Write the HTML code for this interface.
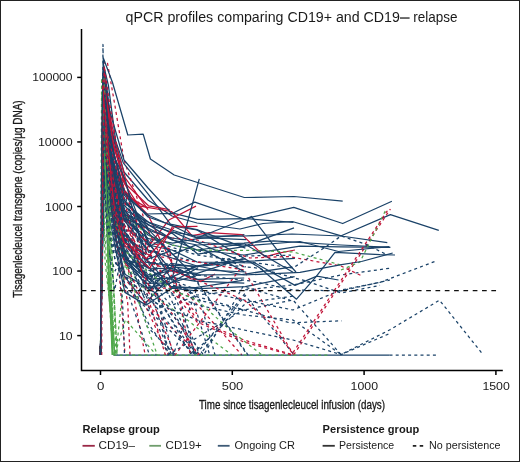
<!DOCTYPE html>
<html><head><meta charset="utf-8"><style>
html,body{margin:0;padding:0;background:#fff;}
body{width:520px;height:462px;overflow:hidden;}
svg{display:block;will-change:transform;}
text{font-family:"Liberation Sans",sans-serif;fill:#1a1a1a;}
</style></head><body>
<svg width="520" height="462" viewBox="0 0 520 462">
<rect x="0" y="0" width="520" height="462" fill="#fff"/>

<g fill="none" stroke-linejoin="round" stroke-width="1.25">
<polyline points="100.5,355.0 102.9,147.9 107.5,188.6 116.2,240.6 124.2,275.9 145.3,303.2 169.8,277.2 194.8,281.1 244.3,283.1" stroke="#1a4268"/>
<polyline points="100.5,355.0 103.5,104.2 108.0,166.7 112.8,355.0" stroke="#50a84c"/>
<polyline points="100.5,355.0 104.0,100.0 108.5,175.0 117.0,240.0 127.7,303.0 130.0,355.0" stroke="#c01438" stroke-dasharray="3,3.2"/>
<polyline points="100.5,355.0 103.5,78.0 110.0,125.0 124.0,172.0 148.0,200.0 172.0,216.0 197.0,223.0 240.0,229.0 263.0,223.5 292.3,221.5 341.2,235.8 390.4,214.6 438.8,230.3" stroke="#1a4268"/>
<polyline points="100.5,355.0 102.9,99.7 108.1,142.8 114.3,189.5 124.2,219.3 148.4,238.7 172.6,243.2 197.5,238.7 244.4,234.7" stroke="#1a4268"/>
<polyline points="100.5,355.0 101.6,78.0 104.5,230.0 113.0,355.0" stroke="#50a84c" stroke-dasharray="3,3.2"/>
<polyline points="100.5,355.0 103.5,120.0 109.0,200.0 124.0,262.0 140.0,285.0 160.0,300.0 185.0,318.0 212.0,340.0 232.0,355.0" stroke="#50a84c" stroke-dasharray="3,3.2"/>
<polyline points="100.5,355.0 104.1,67.5 107.8,95.1 114.5,157.5 124.8,191.2 146.4,214.0 174.0,213.4 197.8,219.3 246.5,218.7 293.5,222.4" stroke="#1a4268"/>
<polyline points="100.5,355.0 104.4,82.0 108.1,154.2 114.8,200.3 124.5,240.4 149.4,268.2 173.0,268.9" stroke="#1a4268"/>
<polyline points="100.5,355.0 104.0,80.0 110.0,140.0 124.0,190.0 148.0,215.0 175.0,269.4 191.3,279.0 202.9,280.4 215.0,274.0" stroke="#c01438"/>
<polyline points="100.5,355.0 103.0,105.0 110.0,165.0 124.0,215.0 148.0,245.0 172.0,250.0 197.0,262.0 255.0,263.0 295.0,285.4 316.9,276.2 338.5,280.0" stroke="#1a4268"/>
<polyline points="100.5,355.0 102.7,134.9 108.3,191.4 117.3,355.0" stroke="#50a84c" stroke-dasharray="3,3.2"/>
<polyline points="100.5,355.0 104.5,61.0 107.5,63.0 115.0,106.0 124.0,160.0 148.0,230.0 172.0,280.0 197.0,320.0 244.0,340.0 293.6,355.0 390.4,209.0" stroke="#c01438" stroke-dasharray="3,3.2"/>
<polyline points="100.5,355.0 102.8,149.3 108.0,178.3 114.8,200.9 123.1,234.6 145.3,266.9 170.1,274.0 241.8,355.0" stroke="#c01438" stroke-dasharray="3,3.2"/>
<polyline points="100.5,355.0 103.8,95.0 108.0,170.0 115.0,230.0 120.5,288.0 125.0,355.0" stroke="#c01438" stroke-dasharray="3,3.2"/>
<polyline points="100.5,355.0 103.0,100.0 110.0,160.0 124.0,210.0 148.0,235.0 172.0,245.0 197.0,250.0 244.0,255.0 300.0,246.2 340.0,246.9 389.8,247.3" stroke="#1a4268"/>
<polyline points="100.5,355.0 101.8,95.0 105.0,260.0 115.0,355.0" stroke="#50a84c" stroke-dasharray="3,3.2"/>
<polyline points="100.5,355.0 103.1,77.5 108.1,106.3 114.9,140.0 125.4,178.2 148.1,209.6" stroke="#c01438"/>
<polyline points="100.5,355.0 103.0,95.0 110.0,150.0 124.0,195.0 148.0,215.0 172.0,226.0 197.0,230.0 259.6,267.7 296.5,299.2 316.5,276.2 335.0,252.3 380.0,254.6 395.0,255.0" stroke="#1a4268"/>
<polyline points="100.5,355.0 102.8,109.3 114.6,355.0" stroke="#50a84c" stroke-dasharray="3,3.2"/>
<polyline points="100.5,355.0 103.9,84.9 107.4,134.1 116.2,194.4 123.1,237.2 145.4,250.0 169.3,219.7 196.0,206.1" stroke="#c01438"/>
<polyline points="100.5,355.0 103.0,105.0 110.0,175.0 124.0,225.0 148.0,250.0 197.0,262.0 257.7,268.1 306.9,281.2 341.0,293.0 380.0,285.4" stroke="#1a4268" stroke-dasharray="3,3.2"/>
<polyline points="100.5,355.0 103.5,100.0 110.0,170.0 124.0,230.0 148.0,270.0 197.0,290.0 244.0,300.0 293.0,310.0 341.0,290.0 380.0,282.4 436.0,261.0" stroke="#1a4268" stroke-dasharray="3,3.2"/>
<polyline points="100.5,355.0 103.0,110.0 110.0,180.0 124.0,230.0 148.0,262.0 197.0,275.0 253.0,281.2 293.0,290.0 341.0,290.8 390.0,280.0" stroke="#1a4268" stroke-dasharray="3,3.2"/>
<polyline points="100.5,355.0 103.0,138.6 107.9,182.5 115.9,228.7 123.6,250.4 147.2,326.8 175.5,355.0" stroke="#1a4268" stroke-dasharray="3,3.2"/>
<polyline points="100.5,355.0 102.4,115.6 108.4,179.9 114.4,218.0 124.8,250.8 145.2,355.0" stroke="#c01438" stroke-dasharray="3,3.2"/>
<polyline points="100.5,355.0 102.5,122.1 107.4,152.8 115.6,210.4 123.6,255.2 147.2,278.0 171.7,266.8 197.9,269.7 246.2,272.0" stroke="#1a4268"/>
<polyline points="100.5,355.0 104.0,132.9 114.7,355.0 125.4,319.7 156.4,355.0" stroke="#50a84c" stroke-dasharray="3,3.2"/>
<polyline points="100.5,355.0 104.7,119.1 108.2,166.6 115.2,227.8 124.2,259.1 148.2,267.3 170.1,286.4 199.3,288.7 245.3,286.7 294.6,276.6" stroke="#1a4268"/>
<polyline points="113.5,355.0 389.5,355.0" stroke="#1a4268"/>
<polyline points="100.5,355.0 103.2,172.8 107.7,222.6 116.3,256.0 125.1,234.5 145.2,254.1 196.4,281.3 247.3,355.0" stroke="#1a4268" stroke-dasharray="3,3.2"/>
<polyline points="100.5,355.0 103.2,90.0 106.0,160.0 108.5,285.0 113.0,355.0" stroke="#50a84c"/>
<polyline points="100.5,355.0 103.3,92.5 107.6,114.4 115.9,148.8 125.3,183.4 149.6,246.8 172.8,231.9 196.9,242.2 244.6,262.7" stroke="#1a4268"/>
<polyline points="100.5,355.0 103.5,118.2 107.4,185.7 116.1,210.5 125.1,247.9 149.0,278.6 173.8,294.4 199.8,355.0 245.1,295.3 294.3,355.0" stroke="#1a4268" stroke-dasharray="3,3.2"/>
<polyline points="100.5,355.0 103.3,102.9 107.8,174.9 115.5,196.0 123.5,209.8 149.6,288.3 174.2,288.1 196.9,313.9" stroke="#c01438" stroke-dasharray="3,3.2"/>
<polyline points="100.5,355.0 103.1,118.3 107.6,176.1 115.5,238.5 125.3,279.4 146.7,304.4 200.1,355.0" stroke="#c01438" stroke-dasharray="3,3.2"/>
<polyline points="100.5,355.0 104.3,145.6 107.5,171.8 115.3,209.7 123.1,247.6 149.2,279.1 169.2,278.1 195.4,266.9 241.9,261.7 294.9,258.3" stroke="#1a4268"/>
<polyline points="100.5,355.0 103.8,172.0 108.3,202.3 115.7,241.1 123.4,275.6 150.1,290.0 170.4,355.0" stroke="#1a4268" stroke-dasharray="3,3.2"/>
<polyline points="100.5,355.0 103.0,95.0 110.0,150.0 124.0,200.0 148.0,228.0 172.0,240.0 197.0,245.0 244.0,243.1 273.5,240.8 341.0,245.0 390.4,247.3" stroke="#1a4268"/>
<polyline points="100.5,355.0 102.7,113.9 108.0,157.1 115.0,183.1 125.2,210.1 145.7,261.5 172.5,264.5 195.8,279.4 248.1,355.0" stroke="#1a4268" stroke-dasharray="3,3.2"/>
<polyline points="100.5,355.0 104.0,90.0 110.0,160.0 124.0,220.0 148.0,255.0 197.0,262.0 244.0,270.0 293.6,355.0" stroke="#c01438" stroke-dasharray="3,3.2"/>
<polyline points="100.5,355.0 104.3,83.7 107.8,100.0 114.3,154.9 122.9,193.3 147.6,208.1" stroke="#c01438"/>
<polyline points="100.5,355.0 104.0,70.0 110.0,130.0 124.0,183.0 138.8,205.8 171.5,211.5 191.9,235.6 209.2,232.7 241.9,234.6 265.0,256.9 278.8,253.1 295.0,250.0" stroke="#c01438"/>
<polyline points="100.5,355.0 104.3,95.8 107.5,143.0 116.1,184.7 125.2,214.7 147.2,223.9 172.7,239.9 197.2,250.0 244.3,243.8 293.0,272.2" stroke="#1a4268"/>
<polyline points="100.5,355.0 103.3,134.6 107.8,185.9 115.5,225.1 124.6,261.2 145.9,283.4 170.2,282.8 198.4,275.0" stroke="#1a4268"/>
<polyline points="100.5,355.0 103.3,126.3 108.4,180.8 114.8,222.0 123.2,259.0 150.2,282.6 170.9,263.4 195.9,266.8" stroke="#1a4268"/>
<polyline points="100.5,355.0 102.6,89.1 108.1,142.5 115.9,355.0 125.3,264.2 157.3,355.0" stroke="#50a84c" stroke-dasharray="3,3.2"/>
<polyline points="100.5,355.0 104.1,111.0 108.4,150.0 115.1,178.3 123.5,201.9 148.9,222.6 173.2,233.9 197.7,254.1 242.3,246.8 294.0,227.9" stroke="#1a4268"/>
<polyline points="100.5,355.0 103.4,64.5 108.4,85.4 115.7,140.9 123.3,162.9 148.8,194.9 170.4,224.2 196.9,229.7 245.4,248.2" stroke="#1a4268"/>
<polyline points="100.5,355.0 103.7,94.0 108.4,123.4 114.6,156.3 124.8,200.6 146.7,252.3 174.1,250.6 197.0,250.2 245.9,267.0" stroke="#1a4268" stroke-dasharray="3,3.2"/>
<polyline points="100.5,355.0 103.9,114.9 108.1,185.3 115.1,219.0 124.1,260.6 168.5,355.0" stroke="#c01438" stroke-dasharray="3,3.2"/>
<polyline points="100.5,355.0 103.5,118.0 110.0,195.0 124.0,250.0 148.0,278.0 190.0,290.0 209.7,355.0" stroke="#1a4268" stroke-dasharray="3,3.2"/>
<polyline points="100.5,355.0 102.9,157.2 108.1,223.4 115.7,263.6 123.8,271.7 149.0,324.4 170.1,355.0" stroke="#1a4268" stroke-dasharray="3,3.2"/>
<polyline points="100.5,355.0 102.6,119.5 108.1,149.6 116.0,199.0 125.2,232.3 146.7,259.4 170.9,250.9" stroke="#1a4268"/>
<polyline points="100.5,355.0 103.4,100.6 108.3,137.8 116.0,167.1 125.0,192.9 148.7,279.3 171.5,265.2 194.7,355.0" stroke="#1a4268" stroke-dasharray="3,3.2"/>
<polyline points="100.5,355.0 103.0,90.0 110.0,150.0 124.0,200.0 148.0,225.0 172.0,232.0 197.0,236.0 244.0,236.0 292.0,234.0 341.0,236.0 387.3,242.7" stroke="#1a4268"/>
<polyline points="100.5,355.0 103.7,109.2 107.5,167.1 114.8,191.6 123.2,206.3 150.4,255.1 196.9,355.0" stroke="#1a4268" stroke-dasharray="3,3.2"/>
<polyline points="100.5,355.0 103.9,88.7 107.8,156.1 115.8,186.4 124.9,226.4 146.3,284.2 174.1,312.6 195.8,355.0" stroke="#1a4268" stroke-dasharray="3,3.2"/>
<polyline points="100.5,355.0 103.0,110.0 110.0,165.0 124.0,210.0 148.0,222.0 172.0,230.0 197.0,238.0 251.5,216.5 284.6,259.6 296.0,272.0" stroke="#1a4268"/>
<polyline points="100.5,355.0 103.0,143.2 107.6,173.7 115.0,223.4 125.1,258.0 147.4,276.5 169.1,270.9 197.2,273.3 242.8,258.5" stroke="#1a4268"/>
<polyline points="100.5,355.0 103.8,92.0 108.4,130.1 114.3,184.4 124.2,218.3 148.2,243.2 169.2,268.0 197.4,274.8 241.9,274.6 292.3,266.9" stroke="#1a4268"/>
<polyline points="100.5,355.0 102.6,108.2 108.3,189.8 114.5,219.0 125.5,253.4 145.4,300.4 171.9,355.0" stroke="#1a4268" stroke-dasharray="3,3.2"/>
<polyline points="100.5,355.0 103.5,110.0 110.0,180.0 124.0,240.0 148.0,275.0 197.0,295.0 244.0,290.0 293.0,285.0 341.0,275.0 390.7,268.1" stroke="#1a4268" stroke-dasharray="3,3.2"/>
<polyline points="100.5,355.0 104.2,108.1 107.8,140.7 116.2,180.7 124.8,196.5 145.5,250.3 173.2,355.0 196.9,288.2" stroke="#1a4268" stroke-dasharray="3,3.2"/>
<polyline points="100.5,355.0 103.6,96.9 108.0,153.0 114.4,176.1 124.8,215.7 144.8,283.1 175.0,355.0 243.1,265.1" stroke="#c01438" stroke-dasharray="3,3.2"/>
<polyline points="100.5,355.0 103.7,77.5 113.0,355.0" stroke="#50a84c" stroke-dasharray="3,3.2"/>
<polyline points="100.5,355.0 102.9,131.0 107.6,166.2 114.9,220.0 123.7,275.6 149.8,298.6 193.1,355.0" stroke="#1a4268" stroke-dasharray="3,3.2"/>
<polyline points="100.5,355.0 103.8,80.0 109.0,150.0 118.0,200.0 124.0,215.0 148.0,230.0 172.0,238.0 197.0,240.0 250.0,258.0 288.5,256.5 341.0,266.0 362.0,276.0" stroke="#c01438" stroke-dasharray="3,3.2"/>
<polyline points="100.5,355.0 103.6,105.0 108.0,180.0 116.0,245.0 122.5,300.0 124.5,355.0" stroke="#1a4268" stroke-dasharray="3,3.2"/>
<polyline points="100.5,355.0 103.5,115.0 110.0,190.0 124.0,245.0 148.0,268.0 175.0,282.0 200.0,300.0 215.0,355.0" stroke="#1a4268" stroke-dasharray="3,3.2"/>
<polyline points="100.5,355.0 103.5,173.7 107.5,248.1 115.1,270.9 123.3,253.7 146.7,275.4 170.9,305.7 194.9,296.1 290.1,322.9 341.7,320.8" stroke="#1a4268" stroke-dasharray="3,3.2"/>
<polyline points="100.5,355.0 104.0,120.0 110.0,190.0 124.0,245.0 148.0,285.0 197.0,305.0 244.0,315.0 293.0,320.0 341.0,354.6" stroke="#1a4268" stroke-dasharray="3,3.2"/>
<polyline points="100.5,355.0 103.3,117.2 107.7,195.8 115.9,248.0 125.2,286.0 146.8,308.7 195.8,355.0" stroke="#1a4268" stroke-dasharray="3,3.2"/>
<polyline points="100.5,355.0 103.5,95.0 109.0,170.0 124.0,215.0 148.0,235.0 172.0,245.0 197.0,250.0 250.0,250.4 293.0,252.0 341.0,265.0" stroke="#50a84c" stroke-dasharray="3,3.2"/>
<polyline points="100.5,355.0 103.1,118.1 108.2,146.5 116.3,190.0 125.3,215.4 149.7,287.6 195.6,355.0 244.9,293.5" stroke="#1a4268" stroke-dasharray="3,3.2"/>
<polyline points="100.5,355.0 103.5,58.5 112.5,82.5 127.8,135.0 143.2,134.2 150.4,159.0 174.2,175.0 244.3,197.5 294.0,196.5 342.7,201.2" stroke="#1a4268"/>
<polyline points="100.5,355.0 103.2,82.1 108.4,140.7 114.7,174.2 124.2,215.0 148.9,242.4 167.9,355.0 243.6,309.7" stroke="#1a4268" stroke-dasharray="3,3.2"/>
<polyline points="341.0,270.0 360.0,262.0 386.0,209.6" stroke="#50a84c" stroke-dasharray="3,3.2"/>
<polyline points="100.5,355.0 104.0,81.7 108.0,140.0 114.3,198.1 125.2,235.5 148.7,261.7 171.4,287.2 195.6,287.6 242.4,280.4" stroke="#1a4268"/>
<polyline points="100.5,355.0 103.0,44.5 103.3,70.0 110.0,180.0 124.0,240.0 148.0,280.0 197.0,300.0 244.0,310.0 293.0,300.0 341.0,354.6 389.5,330.0 439.5,300.2 482.4,353.8" stroke="#1a4268" stroke-dasharray="3,3.2"/>
<polyline points="100.5,355.0 103.0,105.0 110.0,170.0 124.0,220.0 148.0,250.0 172.0,258.0 197.0,266.0 244.0,275.0 300.0,272.3 341.5,264.6 361.5,261.5 392.7,253.0" stroke="#1a4268"/>
<polyline points="100.5,355.0 104.0,106.4 108.3,170.5 114.3,224.5 123.8,244.6 149.8,268.1 172.4,226.8 197.5,226.3" stroke="#c01438"/>
<polyline points="100.5,355.0 103.4,143.5 108.2,171.6 116.1,219.8 125.3,256.2 147.5,287.9 169.3,283.6 198.1,267.7" stroke="#1a4268"/>
<polyline points="100.5,355.0 104.0,75.0 110.0,135.0 125.4,183.7 148.5,205.8 169.6,209.6" stroke="#c01438"/>
<polyline points="100.5,355.0 103.0,110.0 108.0,190.0 124.0,250.0 148.0,272.0 172.0,290.0 197.0,300.0 230.0,330.0 262.0,355.0" stroke="#50a84c" stroke-dasharray="3,3.2"/>
<polyline points="100.5,355.0 104.7,147.4 107.5,206.4 115.8,250.8 124.9,292.4 146.3,305.1 171.7,288.2 194.2,290.7" stroke="#1a4268"/>
<polyline points="100.5,355.0 103.0,100.0 110.0,170.0 124.0,215.0 148.0,240.0 197.0,255.0 248.5,261.9 293.0,268.0 327.3,245.8 341.0,236.0 365.8,244.2 385.8,254.2" stroke="#1a4268" stroke-dasharray="3,3.2"/>
<polyline points="100.5,355.0 103.0,72.0 110.0,112.0 124.0,160.0 148.0,188.0 171.7,213.7 194.8,202.1 244.0,219.0 293.8,207.3 342.7,223.5 391.9,201.2" stroke="#1a4268"/>
<polyline points="100.5,355.0 103.0,121.2 107.8,174.9 114.7,206.2 124.3,243.0 149.2,255.0" stroke="#c01438"/>
<polyline points="100.5,355.0 103.5,133.6 107.6,162.1 114.8,202.5 123.4,236.5 145.0,273.8 191.3,355.0 246.4,302.7 293.7,296.1" stroke="#1a4268" stroke-dasharray="3,3.2"/>
<polyline points="389.5,355.0 437.0,355.0" stroke="#1a4268" stroke-dasharray="3,3.2"/>
<polyline points="100.5,355.0 103.8,122.6 107.4,177.5 114.8,225.3 124.3,250.5 145.0,299.6" stroke="#1a4268" stroke-dasharray="3,3.2"/>
<polyline points="100.5,355.0 103.3,79.6 107.7,119.6 115.4,181.9 123.4,217.8 146.4,227.4 172.6,254.6 195.6,245.2 244.1,271.6" stroke="#1a4268"/>
<polyline points="100.5,355.0 103.1,105.6 108.2,156.8 116.2,192.3 124.4,232.9 149.1,286.0 172.9,314.5 198.3,355.0" stroke="#c01438" stroke-dasharray="3,3.2"/>
<polyline points="100.5,355.0 103.4,69.3 107.6,131.9 115.9,171.4 125.0,193.4 148.1,217.0 171.6,225.2 197.0,237.7 246.3,239.7" stroke="#1a4268"/>
<polyline points="100.5,355.0 104.1,139.1 108.2,186.6 116.1,238.4 124.9,274.2 149.8,289.5 169.4,269.5 197.8,279.4 244.2,278.0" stroke="#1a4268"/>
<polyline points="113.5,355.0 330.0,355.0" stroke="#50a84c" stroke-dasharray="3,3.2"/>
<polyline points="100.5,355.0 104.0,115.0 110.0,185.0 124.0,250.0 148.0,300.0 197.0,320.0 244.0,330.0 293.0,340.0 341.0,354.6 389.5,333.6" stroke="#1a4268" stroke-dasharray="3,3.2"/>
<polyline points="100.5,355.0 103.0,100.0 110.0,155.0 124.0,205.0 148.0,230.0 172.0,238.0 197.0,242.0 244.0,246.0 300.0,241.5 338.5,251.5 389.2,246.6" stroke="#1a4268"/>
<polyline points="100.5,355.0 103.8,130.4 107.9,257.9 114.8,355.0" stroke="#50a84c"/>
<polyline points="100.5,355.0 104.0,92.0 110.0,165.0 124.0,225.0 148.0,262.0 197.0,280.0 244.0,300.0 270.0,322.0 293.6,355.0" stroke="#c01438" stroke-dasharray="3,3.2"/>
<polyline points="100.5,355.0 104.0,72.2 107.8,134.7 114.4,162.0 123.8,198.2 148.0,297.5 165.4,355.0" stroke="#c01438" stroke-dasharray="3,3.2"/>
<polyline points="100.5,355.0 103.6,84.8 107.4,143.6 116.1,176.1 123.0,212.5 147.4,232.5 171.7,253.2 195.5,277.3" stroke="#1a4268"/>
<polyline points="100.5,355.0 103.0,85.0 110.0,140.0 124.0,190.0 148.0,240.0 171.7,280.0 199.3,178.9" stroke="#1a4268"/>
<polyline points="100.5,355.0 103.8,169.1 108.1,243.9 114.6,290.2 124.6,239.0 146.9,274.9 193.7,267.3 241.1,256.0 291.0,255.2" stroke="#1a4268" stroke-dasharray="3,3.2"/>
<polyline points="100.5,355.0 103.4,72.8 108.2,141.6 114.5,189.5 125.5,233.3 147.9,296.6 173.1,315.8 203.7,355.0 242.9,286.6 289.9,300.1" stroke="#1a4268" stroke-dasharray="3,3.2"/>
<polyline points="100.5,355.0 104.0,77.1 107.5,163.5 117.1,355.0" stroke="#50a84c" stroke-dasharray="3,3.2"/>
<polyline points="100.5,355.0 102.8,99.0 112.1,355.0" stroke="#50a84c"/>
<polyline points="100.5,355.0 102.6,154.2 107.4,228.7 116.0,262.8 125.4,285.5 149.5,355.0" stroke="#1a4268" stroke-dasharray="3,3.2"/>
<polyline points="100.5,355.0 104.0,102.6 107.4,170.2 114.8,190.3 124.2,227.6 147.8,241.6 169.2,248.6 190.6,355.0" stroke="#c01438" stroke-dasharray="3,3.2"/>
<polyline points="100.5,355.0 104.5,96.5 108.0,121.0 114.4,157.6 125.5,180.2 145.5,262.1 169.7,265.4 195.7,266.2 245.6,258.8" stroke="#1a4268"/>
<polyline points="100.5,355.0 102.7,87.5 108.3,150.2 114.9,213.7 123.7,242.3 146.4,258.7 174.0,227.6" stroke="#c01438"/>
<polyline points="100.5,355.0 104.2,66.0 109.0,100.0 124.0,190.0 148.0,250.0 172.0,290.0 197.0,322.0 244.0,342.0 291.4,355.0 388.2,209.5" stroke="#c01438" stroke-dasharray="3,3.2"/>
<polyline points="100.5,355.0 102.7,125.4 107.7,181.3 115.2,217.3 123.6,233.8 147.4,288.5 174.2,279.6" stroke="#1a4268" stroke-dasharray="3,3.2"/>
<polyline points="101.7,355.0 102.3,200.0 103.0,80.0" stroke="#c01438" stroke-dasharray="3,3.2"/>
<polyline points="100.7,355.0 101.2,200.0 102.5,90.0" stroke="#1a4268"/>
</g>
<line x1="81.7" y1="290.6" x2="497.4" y2="290.6" stroke="#111" stroke-width="1.4" stroke-dasharray="4.7,4.61"/>
<g stroke="#000" stroke-width="1.5" fill="none">
<polyline points="81.5,29 81.5,370.5 502.8,370.5"/>
<line x1="77.2" y1="77.40" x2="81.5" y2="77.40"/>
<line x1="77.2" y1="141.95" x2="81.5" y2="141.95"/>
<line x1="77.2" y1="206.50" x2="81.5" y2="206.50"/>
<line x1="77.2" y1="271.05" x2="81.5" y2="271.05"/>
<line x1="77.2" y1="335.60" x2="81.5" y2="335.60"/>
<line x1="100.50" y1="370.5" x2="100.50" y2="375"/>
<line x1="232.30" y1="370.5" x2="232.30" y2="375"/>
<line x1="364.10" y1="370.5" x2="364.10" y2="375"/>
<line x1="495.90" y1="370.5" x2="495.90" y2="375"/>
</g>
<text x="32.20" y="81.4" font-size="11.3" textLength="40.4" lengthAdjust="spacingAndGlyphs">100000</text>
<text x="37.90" y="145.9" font-size="11.3" textLength="34.7" lengthAdjust="spacingAndGlyphs">10000</text>
<text x="45.10" y="210.5" font-size="11.3" textLength="27.5" lengthAdjust="spacingAndGlyphs">1000</text>
<text x="52.20" y="275.0" font-size="11.3" textLength="20.4" lengthAdjust="spacingAndGlyphs">100</text>
<text x="59.00" y="339.6" font-size="11.3" textLength="13.6" lengthAdjust="spacingAndGlyphs">10</text>
<text x="97.00" y="389.9" font-size="11.3" textLength="7.4" lengthAdjust="spacingAndGlyphs">0</text>
<text x="221.70" y="389.9" font-size="11.3" textLength="21.6" lengthAdjust="spacingAndGlyphs">500</text>
<text x="350.60" y="389.9" font-size="11.3" textLength="27.4" lengthAdjust="spacingAndGlyphs">1000</text>
<text x="482.40" y="389.9" font-size="11.3" textLength="27.4" lengthAdjust="spacingAndGlyphs">1500</text>
<text x="125.6" y="22" font-size="14" textLength="274.3" lengthAdjust="spacingAndGlyphs">qPCR profiles comparing CD19+ and CD19</text>
<rect x="400" y="17.4" width="9.6" height="1.25" fill="#1a1a1a"/>
<text x="413.2" y="22" font-size="14" textLength="44.2" lengthAdjust="spacingAndGlyphs">relapse</text>
<text x="199" y="409.2" font-size="13" stroke="#1a1a1a" stroke-width="0.35" textLength="186" lengthAdjust="spacingAndGlyphs">Time since tisagenlecleucel infusion (days)</text>
<text transform="translate(22.3,297.8) rotate(-90)" x="0" y="0" font-size="13" stroke="#1a1a1a" stroke-width="0.35" textLength="197.5" lengthAdjust="spacingAndGlyphs">Tisagenlecleucel transgene (copies/µg DNA)</text>
<text x="82.6" y="433" font-size="11" font-weight="bold" textLength="77.2" lengthAdjust="spacingAndGlyphs">Relapse group</text>
<text x="322.6" y="433" font-size="11" font-weight="bold" textLength="96.6" lengthAdjust="spacingAndGlyphs">Persistence group</text>
<line x1="82.5" y1="445.8" x2="94.8" y2="445.8" stroke="#9a2846" stroke-width="1.8"/>
<text x="98.5" y="449" font-size="11" textLength="36.5" lengthAdjust="spacingAndGlyphs">CD19–</text>
<line x1="149.3" y1="445.8" x2="161" y2="445.8" stroke="#6f9d6c" stroke-width="1.8"/>
<text x="165.6" y="449" font-size="11" textLength="36.2" lengthAdjust="spacingAndGlyphs">CD19+</text>
<line x1="217.8" y1="445.8" x2="229.6" y2="445.8" stroke="#3e5a76" stroke-width="1.8"/>
<text x="234.5" y="449" font-size="11" textLength="60.5" lengthAdjust="spacingAndGlyphs">Ongoing CR</text>
<line x1="322.6" y1="445.8" x2="334.8" y2="445.8" stroke="#333" stroke-width="1.8"/>
<text x="339" y="449" font-size="11" textLength="55.2" lengthAdjust="spacingAndGlyphs">Persistence</text>
<line x1="412.8" y1="445.8" x2="423.2" y2="445.8" stroke="#222" stroke-width="1.8" stroke-dasharray="3.5,3.4"/>
<text x="429" y="449" font-size="11" textLength="71.6" lengthAdjust="spacingAndGlyphs">No persistence</text>
<rect x="0.5" y="0.5" width="519" height="461" fill="none" stroke="#222" stroke-width="1"/>
</svg></body></html>
